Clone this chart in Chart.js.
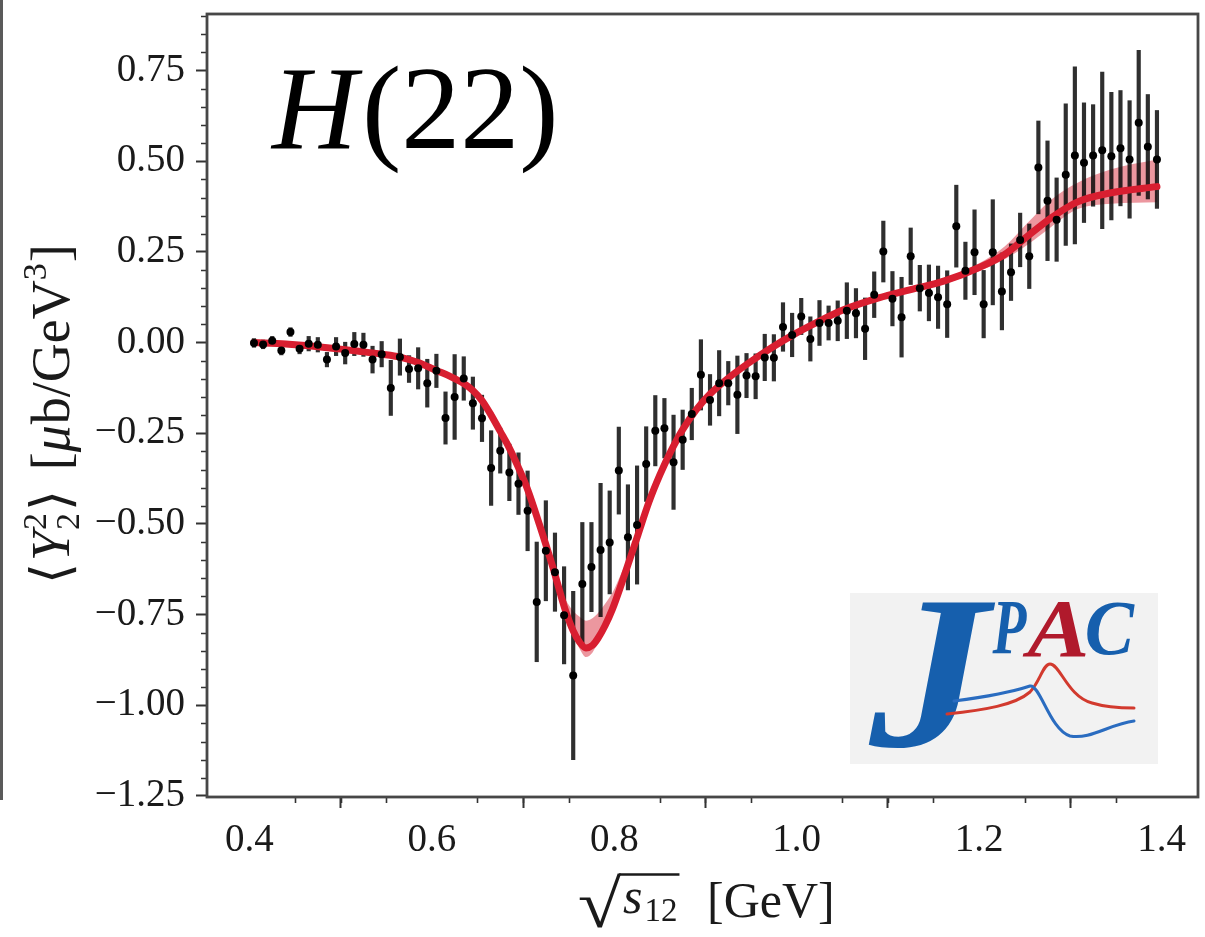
<!DOCTYPE html>
<html>
<head>
<meta charset="utf-8">
<script src="https://cdn.jsdelivr.net/npm/chart.js@4.4.1/dist/chart.umd.min.js"></script>
<style>
  html, body { margin: 0; padding: 0; background: #ffffff; }
  canvas { display: block; }
</style>
</head>
<body>
<canvas id="chart" width="1205" height="937"></canvas>
<script>
// Measured <Y_2^2> moment versus sqrt(s12), in µb/GeV^3
const energy = [
  0.405, 0.415, 0.425, 0.435, 0.445, 0.455, 0.465, 0.475, 0.485, 0.495,
  0.505, 0.515, 0.525, 0.535, 0.545, 0.555, 0.565, 0.575, 0.585, 0.595,
  0.605, 0.615, 0.625, 0.635, 0.645, 0.655, 0.665, 0.675, 0.685, 0.695,
  0.705, 0.715, 0.725, 0.735, 0.745, 0.755, 0.765, 0.775, 0.785, 0.795,
  0.805, 0.815, 0.825, 0.835, 0.845, 0.855, 0.865, 0.875, 0.885, 0.895,
  0.905, 0.915, 0.925, 0.935, 0.945, 0.955, 0.965, 0.975, 0.985, 0.995,
  1.005, 1.015, 1.025, 1.035, 1.045, 1.055, 1.065, 1.075, 1.085, 1.095,
  1.105, 1.115, 1.125, 1.135, 1.145, 1.155, 1.165, 1.175, 1.185, 1.195,
  1.205, 1.215, 1.225, 1.235, 1.245, 1.255, 1.265, 1.275, 1.285, 1.295,
  1.305, 1.315, 1.325, 1.335, 1.345, 1.355, 1.365, 1.375, 1.385, 1.395
];

const moment = [
  -0.001, -0.005, 0.005, -0.022, 0.029, -0.017, -0.003, -0.006, -0.047, -0.011,
  -0.029, -0.004, -0.006, -0.047, -0.032, -0.125, -0.040, -0.073, -0.071, -0.112,
  -0.078, -0.208, -0.150, -0.099, -0.167, -0.209, -0.346, -0.298, -0.358, -0.389,
  -0.464, -0.715, -0.574, -0.633, -0.752, -0.918, -0.666, -0.619, -0.572, -0.551,
  -0.353, -0.537, -0.503, -0.335, -0.243, -0.236, -0.330, -0.268, -0.197, -0.089,
  -0.158, -0.112, -0.112, -0.144, -0.091, -0.093, -0.041, -0.042, 0.043, 0.021,
  0.072, 0.010, 0.054, 0.054, 0.060, 0.088, 0.081, 0.038, 0.132, 0.251,
  0.121, 0.070, 0.238, 0.150, 0.137, 0.125, 0.106, 0.321, 0.198, 0.249,
  0.106, 0.249, 0.141, 0.194, 0.283, 0.238, 0.483, 0.391, 0.339, 0.463,
  0.516, 0.496, 0.516, 0.530, 0.514, 0.536, 0.505, 0.606, 0.540, 0.505
];

const momentError = [
  0.012, 0.012, 0.012, 0.012, 0.012, 0.014, 0.020, 0.020, 0.020, 0.025,
  0.030, 0.032, 0.032, 0.037, 0.035, 0.076, 0.050, 0.037, 0.057, 0.066,
  0.046, 0.072, 0.117, 0.060, 0.072, 0.064, 0.103, 0.062, 0.078, 0.085,
  0.110, 0.165, 0.138, 0.108, 0.134, 0.232, 0.170, 0.123, 0.184, 0.142,
  0.120, 0.145, 0.163, 0.103, 0.097, 0.082, 0.130, 0.082, 0.071, 0.097,
  0.070, 0.090, 0.060, 0.107, 0.061, 0.062, 0.064, 0.064, 0.067, 0.060,
  0.050, 0.061, 0.062, 0.047, 0.055, 0.077, 0.068, 0.085, 0.063, 0.084,
  0.075, 0.110, 0.078, 0.063, 0.077, 0.086, 0.092, 0.113, 0.079, 0.117,
  0.093, 0.145, 0.106, 0.078, 0.074, 0.089, 0.128, 0.165, 0.115, 0.195,
  0.244, 0.165, 0.140, 0.216, 0.176, 0.159, 0.162, 0.200, 0.144, 0.135
];

// Amplitude fit: central curve and its uncertainty band
const fitEnergy = [
  0.405, 0.44, 0.47, 0.50, 0.52, 0.545, 0.565, 0.585, 0.605, 0.62,
  0.635, 0.645, 0.655, 0.665, 0.675, 0.685, 0.695, 0.705, 0.718, 0.733,
  0.746, 0.755, 0.762, 0.769, 0.776, 0.782, 0.79, 0.798, 0.808, 0.818,
  0.826, 0.838, 0.85, 0.862, 0.875, 0.89, 0.905, 0.925, 0.947, 0.972,
  0.998, 1.02, 1.05, 1.09, 1.125, 1.162, 1.20, 1.228, 1.253, 1.279,
  1.308, 1.345, 1.395
];
const fitCentral = [
  0.000, -0.004, -0.010, -0.018, -0.024, -0.032, -0.040, -0.055, -0.077, -0.093,
  -0.113, -0.132, -0.160, -0.200, -0.245, -0.291, -0.345, -0.405, -0.502, -0.622,
  -0.735, -0.795, -0.826, -0.842, -0.835, -0.816, -0.780, -0.735, -0.665, -0.590,
  -0.530, -0.440, -0.365, -0.300, -0.240, -0.185, -0.142, -0.098, -0.057, -0.015,
  0.024, 0.053, 0.089, 0.123, 0.146, 0.170, 0.207, 0.243, 0.293, 0.344,
  0.388, 0.413, 0.430
];
const fitUpper = [
  0.008, 0.004, -0.002, -0.010, -0.016, -0.024, -0.032, -0.047, -0.069, -0.085,
  -0.105, -0.124, -0.152, -0.192, -0.237, -0.283, -0.337, -0.397, -0.494, -0.610,
  -0.705, -0.740, -0.756, -0.767, -0.760, -0.746, -0.720, -0.690, -0.635, -0.575,
  -0.522, -0.432, -0.357, -0.292, -0.232, -0.177, -0.134, -0.090, -0.049, -0.007,
  0.032, 0.061, 0.097, 0.131, 0.154, 0.178, 0.219, 0.265, 0.330, 0.394,
  0.441, 0.478, 0.505
];
const fitLower = [
  -0.008, -0.012, -0.018, -0.026, -0.032, -0.040, -0.048, -0.063, -0.085, -0.101,
  -0.121, -0.140, -0.168, -0.208, -0.253, -0.299, -0.353, -0.413, -0.510, -0.630,
  -0.743, -0.807, -0.844, -0.867, -0.855, -0.828, -0.788, -0.743, -0.673, -0.598,
  -0.538, -0.448, -0.373, -0.308, -0.248, -0.193, -0.150, -0.106, -0.065, -0.023,
  0.016, 0.045, 0.081, 0.115, 0.138, 0.162, 0.197, 0.230, 0.270, 0.319,
  0.368, 0.383, 0.387
];

// Labelled axis ticks
const xTickValues = [0.4, 0.6, 0.8, 1.0, 1.2, 1.4];
const yTickValues = [-1.25, -1.0, -0.75, -0.5, -0.25, 0.0, 0.25, 0.5, 0.75];

const SERIF = "'Liberation Serif', 'DejaVu Serif', serif";
const INK = '#1a1a1a';

const pointsData = energy.map((x, i) => ({ x, y: moment[i] }));
const barsData = energy.map((x, i) => ({ x, y: [moment[i] - momentError[i], moment[i] + momentError[i]] }));
const curve = arr => fitEnergy.map((x, i) => ({ x, y: arr[i] }));

// Draws a run of text pieces (font, vertical shift) along a baseline
function drawRun(ctx, pieces, x0, y0) {
  let x = x0;
  for (const p of pieces) {
    ctx.font = p.font;
    ctx.fillText(p.t, x, y0 + (p.dy || 0));
    if (!p.stay) x += ctx.measureText(p.t).width + (p.gap || 0);
  }
  return x;
}

// Fits one glyph into a box given by its ink extents
function fitGlyph(ctx, text, font, color, left, top, right, bottom) {
  ctx.save();
  ctx.font = font;
  ctx.fillStyle = color;
  ctx.textBaseline = 'alphabetic';
  ctx.textAlign = 'left';
  const m = ctx.measureText(text);
  const bw = m.actualBoundingBoxLeft + m.actualBoundingBoxRight;
  const bh = m.actualBoundingBoxAscent + m.actualBoundingBoxDescent;
  ctx.translate(left, top);
  ctx.scale((right - left) / bw, (bottom - top) / bh);
  ctx.fillText(text, m.actualBoundingBoxLeft, m.actualBoundingBoxAscent);
  ctx.restore();
}

const decorPlugin = {
  id: 'decor',
  afterDraw(chart) {
    const ctx = chart.ctx;
    const a = chart.chartArea;
    const xs = chart.scales.x;
    const ys = chart.scales.y;
    ctx.save();

    // edge of the neighbouring panel
    ctx.fillStyle = '#5a5a5a';
    ctx.fillRect(0, 0, 3, 800);

    // minor ticks
    ctx.strokeStyle = '#333';
    ctx.lineWidth = 1.6;
    ctx.beginPath();
    for (let k = 6; k <= 30; k++) {
      if (k % 4 === 0) continue;
      const v = k * 0.05;
      if (v < xs.min || v > xs.max) continue;
      const px = Math.round(xs.getPixelForValue(v)) + 0.5;
      ctx.moveTo(px, a.bottom);
      ctx.lineTo(px, a.bottom + 6);
    }
    for (let k = -26; k <= 19; k++) {
      if (k % 5 === 0) continue;
      const v = k * 0.05;
      if (v < ys.min || v > ys.max) continue;
      const py = Math.round(ys.getPixelForValue(v)) + 0.5;
      ctx.moveTo(a.left - 6, py);
      ctx.lineTo(a.left, py);
    }
    ctx.stroke();

    // frame
    ctx.strokeStyle = '#474747';
    ctx.lineWidth = 2.8;
    ctx.strokeRect(a.left, a.top, a.right - a.left, a.bottom - a.top);

    // panel title H(22)
    ctx.fillStyle = '#000';
    ctx.textBaseline = 'alphabetic';
    ctx.textAlign = 'left';
    ctx.font = `italic 118px ${SERIF}`;
    ctx.fillText('H', 272, 148);
    ctx.font = `118px ${SERIF}`;
    ctx.fillText('(22)', 362, 148);

    // x-axis title: sqrt(s12) [GeV]
    fitGlyph(ctx, '\u221A', `70px ${SERIF}`, INK, 579, 873, 622, 928);
    ctx.fillStyle = INK;
    const subEnd = drawRun(ctx, [
      { t: 's', font: `italic 50px ${SERIF}`, gap: 2 },
      { t: '12', font: `33px ${SERIF}`, dy: 8 }
    ], 623, 913);
    ctx.strokeStyle = INK;
    ctx.lineWidth = 2.4;
    ctx.beginPath();
    ctx.moveTo(619, 874.5);
    ctx.lineTo(subEnd + 2, 874.5);
    ctx.stroke();
    drawRun(ctx, [{ t: '[GeV]', font: `50px ${SERIF}` }], 707, 917);

    // y-axis title: <Y_2^2> [µb/GeV^3]
    ctx.save();
    ctx.translate(69, 584);
    ctx.rotate(-Math.PI / 2);
    drawRun(ctx, [
      { t: '\u27E8', font: `54px ${SERIF}`, gap: 2 },
      { t: 'Y', font: `italic 54px ${SERIF}`, gap: 1 },
      { t: '2', font: `34px ${SERIF}`, dy: -23, stay: true },
      { t: '2', font: `34px ${SERIF}`, dy: 10, gap: 2 },
      { t: '\u27E9', font: `54px ${SERIF}` },
      { t: ' ', font: `54px ${SERIF}`, gap: 6 },
      { t: '[', font: `54px ${SERIF}` },
      { t: '\u03BC', font: `italic 54px ${SERIF}`, gap: 1 },
      { t: 'b/GeV', font: `54px ${SERIF}` },
      { t: '3', font: `34px ${SERIF}`, dy: -23, gap: 1 },
      { t: ']', font: `54px ${SERIF}` }
    ], 0, 0);
    ctx.restore();

    // JPAC logo
    ctx.fillStyle = '#f2f2f2';
    ctx.fillRect(850, 593, 308, 171);
    const blue = '#165fad';
    const red = '#b01a2c';
    fitGlyph(ctx, 'J', `bold italic 200px ${SERIF}`, blue, 868, 603, 996, 748);
    fitGlyph(ctx, 'P', `bold italic 100px ${SERIF}`, blue, 992, 603, 1027, 654);
    fitGlyph(ctx, 'A', `bold italic 100px ${SERIF}`, red, 1022, 601, 1086, 656);
    fitGlyph(ctx, 'C', `bold italic 100px ${SERIF}`, blue, 1087, 603, 1135, 656);
    ctx.lineWidth = 3;
    ctx.lineCap = 'round';
    ctx.strokeStyle = '#d23a2e';
    ctx.beginPath();
    ctx.moveTo(947, 714);
    ctx.bezierCurveTo(985, 710, 1015, 705, 1030, 692);
    ctx.bezierCurveTo(1040, 682, 1043, 664, 1050, 664);
    ctx.bezierCurveTo(1060, 664, 1068, 697, 1092, 703);
    ctx.bezierCurveTo(1105, 707, 1120, 708, 1134, 708);
    ctx.stroke();
    ctx.strokeStyle = '#2a6cc0';
    ctx.beginPath();
    ctx.moveTo(954, 701);
    ctx.bezierCurveTo(985, 697, 1012, 692, 1030, 686);
    ctx.bezierCurveTo(1040, 684, 1050, 730, 1070, 736);
    ctx.bezierCurveTo(1090, 740, 1110, 724, 1134, 721);
    ctx.stroke();

    ctx.restore();
  }
};

new Chart(document.getElementById('chart'), {
  type: 'line',
  data: {
    datasets: [
      {
        label: 'band upper',
        data: curve(fitUpper),
        borderWidth: 0,
        pointRadius: 0,
        fill: false,
        cubicInterpolationMode: 'monotone',
        order: 5
      },
      {
        label: 'band lower',
        data: curve(fitLower),
        borderWidth: 0,
        pointRadius: 0,
        fill: '-1',
        backgroundColor: 'rgba(218, 48, 64, 0.5)',
        cubicInterpolationMode: 'monotone',
        order: 4
      },
      {
        type: 'bar',
        label: 'error',
        data: barsData,
        backgroundColor: 'rgba(10, 10, 10, 0.85)',
        borderWidth: 0,
        barThickness: 3.5,
        order: 3
      },
      {
        label: 'fit',
        data: curve(fitCentral),
        borderColor: '#d81e30',
        borderWidth: 7,
        pointRadius: 0,
        fill: false,
        borderCapStyle: 'round',
        borderJoinStyle: 'round',
        cubicInterpolationMode: 'monotone',
        order: 2
      },
      {
        type: 'scatter',
        label: 'data',
        data: pointsData,
        pointRadius: 4,
        pointBackgroundColor: '#000',
        pointBorderWidth: 0,
        showLine: false,
        order: 1
      }
    ]
  },
  options: {
    responsive: false,
    devicePixelRatio: 1,
    animation: false,
    layout: { padding: { top: 14, right: 7, left: 0, bottom: 0 } },
    plugins: { legend: { display: false }, tooltip: { enabled: false } },
    scales: {
      x: {
        type: 'linear',
        min: 0.3535,
        max: 1.44,
        offset: false,
        afterBuildTicks: s => { s.ticks = xTickValues.map(v => ({ value: v })); },
        afterFit: s => { s.height = 140; },
        grid: { display: true, drawOnChartArea: false, drawTicks: true, tickLength: 11, tickWidth: 2, tickColor: '#333' },
        border: { display: false },
        ticks: {
          padding: 9,
          autoSkip: false,
          maxRotation: 0,
          color: INK,
          font: { family: SERIF, size: 39 },
          callback: v => Number(v).toFixed(1)
        }
      },
      y: {
        type: 'linear',
        min: -1.253,
        max: 0.906,
        afterBuildTicks: s => { s.ticks = yTickValues.map(v => ({ value: v })); },
        afterFit: s => { s.width = 207; },
        grid: { display: true, drawOnChartArea: false, drawTicks: true, tickLength: 11, tickWidth: 2, tickColor: '#333' },
        border: { display: false },
        ticks: {
          padding: 11,
          autoSkip: false,
          color: INK,
          font: { family: SERIF, size: 39, lineHeight: 0.1 },
          callback: v => (v < 0 ? '\u2212' : '') + Math.abs(v).toFixed(2)
        }
      }
    }
  },
  plugins: [decorPlugin]
});
</script>
</body>
</html>
